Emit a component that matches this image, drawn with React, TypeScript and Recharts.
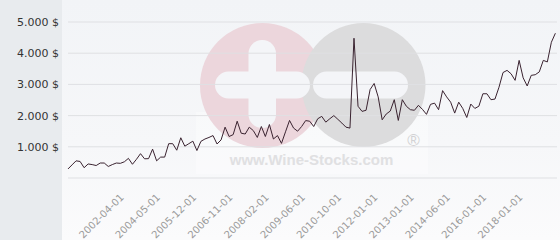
import React from "react";
import { LineChart, Line, XAxis, YAxis, CartesianGrid } from "recharts";

// price per point (USD)
const prices = [
  290, 420, 550, 530, 330, 450, 430, 400, 480, 480,
  370, 430, 480, 470, 520, 630, 440, 600, 780, 615,
  620, 925, 550, 670, 670, 1100, 1100, 890, 1290, 1020,
  1100, 1180, 880, 1175, 1250, 1300, 1360, 1090, 1220, 1630,
  1330, 1390, 1820, 1435, 1410, 1630, 1520, 1300, 1650, 1330,
  1715, 1250, 1360, 1110, 1480, 1845, 1600, 1500, 1650, 1840,
  1820, 1650, 1900, 1975, 1790, 1900, 2000, 1880, 1760, 1630,
  1600, 4480, 2300, 2135, 2170, 2835, 3030, 2600, 1865, 2050,
  2145, 2510, 1845, 2510, 2300, 2190, 2170, 2330, 2200, 2040,
  2360, 2400, 2190, 2800, 2600, 2430, 2080, 2430, 2230, 1940,
  2370, 2230, 2300, 2700, 2700, 2510, 2530, 2910, 3380, 3450,
  3340, 3130, 3770, 3210, 2950, 3290, 3310, 3400, 3770, 3720,
  4350, 4640,
];

// which points carry a date label, and the labels themselves
const tickIndex = [14, 23, 32, 41, 50, 59, 68, 77, 86, 95, 104, 113];
const tickDates = [
  "2002-04-01", "2004-05-01", "2005-12-01", "2006-11-01",
  "2008-02-01", "2009-06-01", "2010-10-01", "2012-01-01",
  "2013-01-01", "2014-06-01", "2016-01-01", "2018-01-01",
];

const yTicks = [0, 1000, 2000, 3000, 4000, 5000];

const data = prices.map((p, i) => ({ i, price: p }));

const fmtPrice = (v: number) => (v === 0 ? "" : `${v / 1000}.000 $`);

const DateTick = (props: any) => {
  const { x, y, payload } = props;
  const k = tickIndex.indexOf(payload.value);
  const label = k >= 0 ? tickDates[k] : "";
  const ty = y + 12;
  return (
    <text
      x={x}
      y={ty}
      transform={`rotate(-45 ${x} ${ty})`}
      textAnchor="end"
      fontSize={10}
      fontFamily="DejaVu Sans"
      fill="#9a9a9a"
    >
      {label}
    </text>
  );
};

// faint logo behind the plot
const Watermark = () => (
  <svg
    width={560}
    height={240}
    style={{ position: "absolute", left: 0, top: 0 }}
  >
    <rect x={196} y={112} width={232} height={62} fill="#ffffff" opacity={0.35} />
    <circle cx={262.5} cy={85.5} r={62.5} fill="#ecd6dc" />
    <circle cx={363.5} cy={85} r={62} fill="#dcdcdd" />
    <rect x={248.5} y={40} width={27.5} height={88} rx={13.5} fill="#f4f5f8" />
    <rect x={215} y={71.5} width={95} height={27} rx={13.5} fill="#f4f5f8" />
    <rect x={313} y={71.5} width={95} height={27} rx={13.5} fill="#f4f5f8" />
    <text
      x={311.5}
      y={165}
      textAnchor="middle"
      fontFamily="Liberation Sans"
      fontWeight="bold"
      fontSize={15}
      fill="#e0e0e2"
    >
      www.Wine-Stocks.com
    </text>
    <text
      x={413.5}
      y={146}
      textAnchor="middle"
      fontFamily="Liberation Sans"
      fontSize={17}
      fill="#d2d2d4"
    >
      ®
    </text>
  </svg>
);

export default function App() {
  return (
    <div
      style={{
        position: "absolute",
        left: 0,
        top: 0,
        width: 560,
        height: 240,
        overflow: "hidden",
        background: "linear-gradient(180deg, #f2f4f7 0%, #f6f7f9 60%, #fbfbfc 100%)",
      }}
    >
      <div
        style={{
          position: "absolute",
          left: 0,
          top: 0,
          width: 62,
          height: 240,
          background: "#e8ebee",
        }}
      />
      <Watermark />
      <div style={{ position: "absolute", left: 0, top: 0 }}>
        <LineChart
          width={560}
          height={240}
          data={data}
          margin={{ top: 22, right: 3, bottom: 0, left: 0 }}
        >
          <CartesianGrid vertical={false} stroke="#dfe0e3" />
          <XAxis
            dataKey="i"
            type="number"
            domain={[0, 121.4]}
            ticks={tickIndex}
            interval={0}
            axisLine={false}
            tickLine={false}
            height={62}
            tick={<DateTick />}
          />
          <YAxis
            domain={[0, 5000]}
            ticks={yTicks}
            interval={0}
            axisLine={false}
            tickLine={false}
            width={68}
            tickMargin={3}
            tickFormatter={fmtPrice}
            tick={{ fontSize: 11, fill: "#333", fontFamily: "DejaVu Sans" }}
          />
          <Line
            type="linear"
            dataKey="price"
            stroke="#3a2330"
            strokeWidth={1}
            dot={false}
            isAnimationActive={false}
          />
        </LineChart>
      </div>
    </div>
  );
}
